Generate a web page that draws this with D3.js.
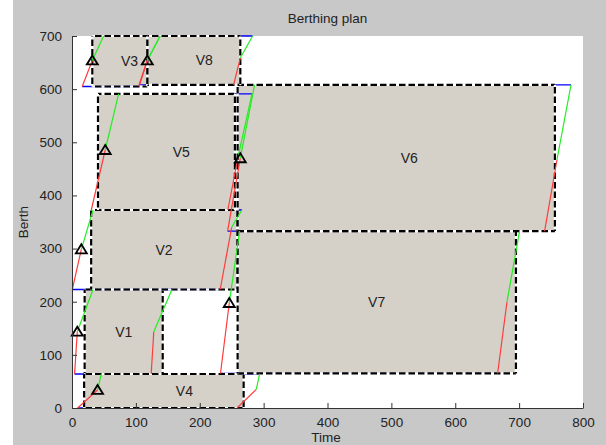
<!DOCTYPE html>
<html>
<head>
<meta charset="utf-8">
<script src="https://cdn.jsdelivr.net/npm/d3@7"></script>
<style>
html,body{margin:0;padding:0;background:#c8c8c8;}
svg{display:block;}
text{font-family:"Liberation Sans",Arial,sans-serif;fill:#222;}
</style>
</head>
<body>
<svg id="chart" width="606" height="445"></svg>
<script>
// ---- data ----
const vessels        = ["V1","V2","V3","V4","V5","V6","V7","V8"];
const berthFrom      = [64, 223, 605, 0, 372.6, 333, 65, 608];
const berthTo        = [223, 372.6, 700, 64, 591, 608, 333, 700];
const serviceStart   = [19.8, 30, 31.8, 19, 40.7, 259.3, 259.3, 117.9];
const serviceEnd     = [142, 258.5, 117.9, 268.7, 255, 756, 695, 263.5];
// arrival (left) side: red from start to mid, green from mid to end
const arriveStart    = [4, 0.5, 16, 8.8, 30.2, 243.6, 232.5, 104.9];
const arriveMid      = [8.3, 14.6, 31.8, 40, 52, 263.5, 246.2, 117.9];
const arriveMidBerth = [143.6, 298.6, 654, 34, 485.5, 470, 197.6, 654];
const arriveEnd      = [32.9, 32.9, 49.5, 45.9, 73, 285.8, 262.4, 138];
// departure (right) side
const departStart    = [124, 232, 104.9, 258.3, 244, 739.9, 666.3, 253];
const departMid      = [128, 250, 117.9, 288.5, 260, 759.2, 681, 263.5];
const departMidBerth = [143.6, 340, 654, 35, 473, 466.7, 200, 658.6];
const departEnd      = [156.5, 266, 138, 293.7, 281.8, 781.2, 700.7, 282.7];
const labelTime      = [81, 144, 90, 176, 171, 528, 477, 207];
const xTicks = [0,100,200,300,400,500,600,700,800];
const yTicks = [0,100,200,300,400,500,600,700];

// ---- layout ----
const svg = d3.select("#chart");
const L = 72, R = 583, T = 36, B = 408;
const x = d3.scaleLinear().domain([0,800]).range([L,R]);
const y = d3.scaleLinear().domain([0,700]).range([B,T]);

svg.append("rect").attr("x",0).attr("y",0).attr("width",606).attr("height",445).attr("fill","#c8c8c8");
svg.append("rect").attr("x",0).attr("y",0).attr("width",13).attr("height",445).attr("fill","#ffffff");
svg.append("rect").attr("x",L).attr("y",T).attr("width",R-L).attr("height",B-T).attr("fill","#ffffff");

const idx = d3.range(vessels.length);
const g = svg.append("g");

// fills
g.selectAll("rect.fill").data(idx).join("rect")
  .attr("x", i=>x(serviceStart[i])).attr("y", i=>y(berthTo[i]))
  .attr("width", i=>x(serviceEnd[i])-x(serviceStart[i]))
  .attr("height", i=>y(berthFrom[i])-y(berthTo[i]))
  .attr("fill","#d5d1c9");

function line(x1,y1,x2,y2,color,w){
  return g.append("line").attr("x1",x(x1)).attr("y1",y(y1)).attr("x2",x(x2)).attr("y2",y(y2))
   .attr("stroke",color).attr("stroke-width",w||1);
}
// blue berth lines
idx.forEach(i=>{
  line(arriveStart[i], berthFrom[i], departStart[i], berthFrom[i], "#0000ff", 1.3);
  line(arriveEnd[i], berthTo[i], departEnd[i], berthTo[i], "#0000ff", 1.3);
});
// dashed service rectangles: each edge separately, dash phase tied to absolute position
function dashedEdge(x1,y1,x2,y2,horizontal){
  line(x1,y1,x2,y2,"#ffffff",2.2);
  const off = horizontal ? x(x1) : (445 - y(y1));
  line(x1,y1,x2,y2,"#000000",2.2).attr("stroke-dasharray","6.5,3").attr("stroke-dashoffset", off % 9.5);
}
idx.forEach(i=>{
  dashedEdge(serviceStart[i], berthFrom[i], serviceEnd[i], berthFrom[i], true);
  dashedEdge(serviceStart[i], berthTo[i], serviceEnd[i], berthTo[i], true);
  dashedEdge(serviceStart[i], berthFrom[i], serviceStart[i], berthTo[i], false);
  dashedEdge(serviceEnd[i], berthFrom[i], serviceEnd[i], berthTo[i], false);
});
// red / green edges
idx.forEach(i=>{
  line(arriveStart[i], berthFrom[i], arriveMid[i], arriveMidBerth[i], "#ff3b3b", 1.2);
  line(arriveMid[i], arriveMidBerth[i], arriveEnd[i], berthTo[i], "#22ee22", 1.2);
  line(departStart[i], berthFrom[i], departMid[i], departMidBerth[i], "#ff3b3b", 1.2);
  line(departMid[i], departMidBerth[i], departEnd[i], berthTo[i], "#22ee22", 1.2);
});
// triangles
g.selectAll("path.tri").data(idx).join("path")
  .attr("d", i=>{
    const cx = x(arriveMid[i]), cy = y(arriveMidBerth[i]);
    return `M${cx},${cy-5}L${cx+5.5},${cy+4}L${cx-5.5},${cy+4}Z`;
  })
  .attr("fill","none").attr("stroke","#000").attr("stroke-width",1.8);
// labels
g.selectAll("text.lab").data(idx).join("text")
  .attr("x", i=>x(labelTime[i])).attr("y", i=>y((berthFrom[i]+berthTo[i])/2)+5)
  .attr("text-anchor","middle").attr("font-size",14).text(i=>vessels[i]);

// axes
const xa = svg.append("g").attr("transform",`translate(0,${B})`)
  .call(d3.axisBottom(x).tickValues(xTicks).tickSize(-5).tickPadding(9).tickSizeOuter(0));
const ya = svg.append("g").attr("transform",`translate(${L},0)`)
  .call(d3.axisLeft(y).tickValues(yTicks).tickSize(-5).tickPadding(10).tickSizeOuter(0));
[xa,ya].forEach(a=>{
  a.selectAll("path,line").attr("stroke","#333");
  a.selectAll("text").attr("font-size",13.5).attr("fill","#222")
   .attr("font-family","Liberation Sans, Arial, sans-serif");
});

svg.append("text").attr("x",(L+R)/2).attr("y",23).attr("text-anchor","middle").attr("font-size",13.5).text("Berthing plan");
svg.append("text").attr("x",326).attr("y",442).attr("text-anchor","middle").attr("font-size",13.5).text("Time");
svg.append("text").attr("transform","translate(28,222) rotate(-90)").attr("text-anchor","middle").attr("font-size",13.5).text("Berth");
</script>
</body>
</html>
